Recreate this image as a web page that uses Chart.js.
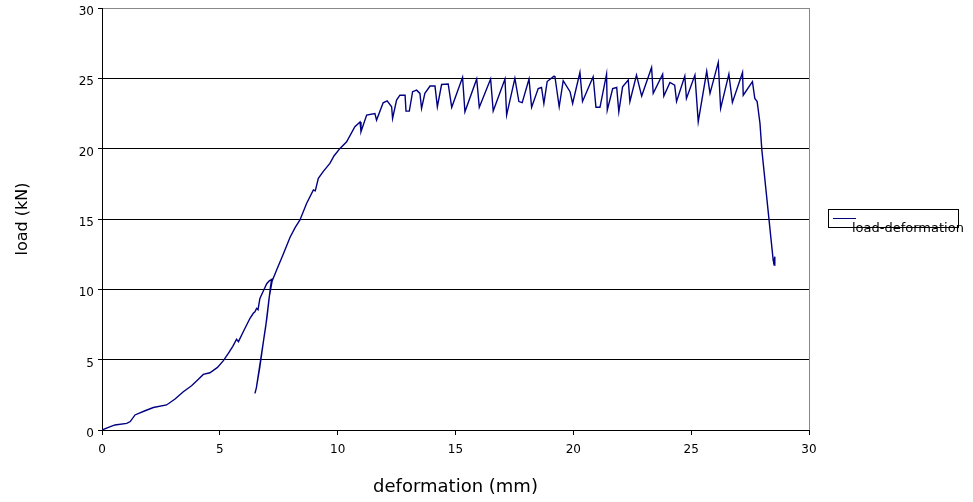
<!DOCTYPE html>
<html lang="en">
<head>
    <meta charset="UTF-8">
    <script src="https://cdn.jsdelivr.net/npm/chart.js"></script>
    <title>load-deformation</title>
    <style>
        html, body { margin: 0; padding: 0; background: #fff; }
        canvas { display: block; }
    </style>
</head>
<body>
    <canvas id="chart" width="973" height="502"></canvas>
    <script>
        // values
        const deformation = [
            0, 0.3, 0.55, 1.05, 1.2, 1.4, 1.8, 2.18, 2.74, 3.1, 3.45, 3.8, 4.09, 4.3, 4.58, 4.9,
            5.15, 5.36, 5.55, 5.71, 5.79, 6.0, 6.28, 6.42, 6.49, 6.56, 6.62, 6.7, 6.85, 6.99, 7.1, 7.2,
            7.15, 7.0, 6.85, 6.7, 6.55, 6.49, 6.55, 6.75, 6.95, 7.1, 7.22,
            7.41, 7.69, 7.98, 8.2, 8.4, 8.68, 8.97, 9.05, 9.18, 9.4, 9.67, 9.85, 10.1, 10.38, 10.73,
            10.95, 10.99, 11.23, 11.58, 11.65, 11.93, 12.1, 12.29, 12.33, 12.5, 12.64, 12.86, 12.9,
            13.04, 13.18, 13.35, 13.49, 13.56, 13.7, 13.92, 14.13, 14.23, 14.41, 14.69, 14.84, 15.3,
            15.4, 15.9, 16.01, 16.49, 16.6, 17.1, 17.17, 17.52, 17.69, 17.83, 18.12, 18.23, 18.51,
            18.65, 18.75, 18.89, 19.18, 19.22, 19.4, 19.57, 19.86, 19.97, 20.28, 20.39, 20.84, 20.96,
            21.13, 21.41, 21.44, 21.67, 21.84, 21.93, 22.09, 22.33, 22.4, 22.68, 22.9, 23.32, 23.39,
            23.79, 23.84, 24.1, 24.3, 24.38, 24.73, 24.8, 25.16, 25.3, 25.66, 25.8, 26.15, 26.25,
            26.6, 26.75, 27.18, 27.21, 27.6, 27.7, 27.8, 27.92, 28.0, 28.48, 28.52, 28.55, 28.5
        ];
        const load = [
            0, 0.2, 0.36, 0.47, 0.6, 1.07, 1.35, 1.6, 1.78, 2.2, 2.72, 3.15, 3.6, 3.95, 4.07, 4.45,
            4.93, 5.45, 5.95, 6.45, 6.28, 7.0, 7.94, 8.3, 8.4, 8.65, 8.55, 9.36, 9.9, 10.4, 10.6, 10.7,
            10.2, 8.0, 6.3, 4.5, 3.0, 2.6, 3.0, 5.2, 7.4, 9.5, 10.6,
            11.37, 12.5, 13.7, 14.4, 14.93, 16.1, 17.06, 17.0, 17.89, 18.4, 18.95, 19.5, 20.02, 20.49, 21.56,
            21.9, 21.2, 22.39, 22.5, 22.03, 23.26, 23.4, 22.98, 22.15, 23.45, 23.8, 23.8, 22.67,
            22.67, 24.05, 24.16, 23.93, 22.86, 23.93, 24.45, 24.45, 22.98, 24.56, 24.6, 22.94, 25.07,
            22.62, 24.95, 22.94, 24.95, 22.67, 24.95, 22.39, 25.0, 23.35, 23.27, 24.95, 22.94, 24.28,
            24.35, 23.21, 24.77, 25.16, 25.11, 22.98, 24.83, 24.05, 23.21, 25.42, 23.35, 25.11, 22.94,
            22.94, 25.3, 22.74, 24.28, 24.35, 22.62, 24.4, 24.88, 23.35, 25.23, 23.74, 25.77, 23.93,
            25.3, 23.74, 24.71, 24.52, 23.35, 25.16, 23.57, 25.23, 21.91, 25.5, 23.93, 26.13, 22.86,
            25.3, 23.29, 25.42, 23.8, 24.77, 23.57, 23.35, 21.8, 19.9, 12.08, 11.73, 12.32, 11.8
        ];
        const seriesName = "load-deformation";
        const xTitle = "deformation (mm)";
        const yTitle = "load (kN)";
        const axisMin = 0, axisMax = 30, axisStep = 5;

        const points = deformation.map((d, i) => ({ x: d, y: load[i] }));
        const fontFamily = "'DejaVu Sans', Verdana, sans-serif";

        // legend box like the old spreadsheet one (text runs over its edge)
        const boxLegend = {
            id: "boxLegend",
            afterDraw(chart) {
                const ctx = chart.ctx;
                ctx.save();
                ctx.strokeStyle = "#000";
                ctx.lineWidth = 1;
                ctx.strokeRect(828.5, 209.5, 130, 18);
                ctx.strokeStyle = "#000080";
                ctx.beginPath();
                ctx.moveTo(833, 218.5);
                ctx.lineTo(856, 218.5);
                ctx.stroke();
                ctx.fillStyle = "#000";
                ctx.font = "13px " + fontFamily;
                ctx.textBaseline = "alphabetic";
                ctx.fillText(seriesName, 852, 231.5);
                ctx.restore();
            }
        };

        const whiteBg = {
            id: "whiteBg",
            beforeDraw(chart) {
                const ctx = chart.ctx;
                ctx.save();
                ctx.fillStyle = "#fff";
                ctx.fillRect(0, 0, chart.width, chart.height);
                ctx.restore();
            }
        };

        new Chart(document.getElementById("chart"), {
            type: "scatter",
            data: {
                datasets: [{
                    label: seriesName,
                    data: points,
                    showLine: true,
                    borderColor: "#000080",
                    backgroundColor: "#000080",
                    borderWidth: 1.4,
                    pointRadius: 0,
                    tension: 0
                }]
            },
            options: {
                responsive: false,
                animation: false,
                devicePixelRatio: 1,
                layout: { padding: { left: 0, right: 164, top: 8, bottom: 0 } },
                plugins: {
                    legend: { display: false },
                    tooltip: { enabled: false }
                },
                scales: {
                    x: {
                        type: "linear",
                        min: axisMin,
                        max: axisMax,
                        ticks: {
                            stepSize: axisStep,
                            color: "#000",
                            font: { family: fontFamily, size: 12 },
                            padding: 8,
                            maxRotation: 0
                        },
                        grid: {
                            color: c => c.tick && c.tick.value === axisMax ? "#888" : "rgba(0,0,0,0)",
                            tickColor: "#000",
                            tickLength: 5,
                            lineWidth: 1
                        },
                        border: { color: "#000", width: 1 },
                        title: {
                            display: true,
                            text: xTitle,
                            color: "#000",
                            font: { family: fontFamily, size: 18 },
                            padding: { top: 0, bottom: 4 }
                        },
                        afterFit(scale) {
                            scale.height = 72;
                            scale.paddingLeft = 0;
                            scale.paddingRight = 0;
                        }
                    },
                    y: {
                        type: "linear",
                        min: axisMin,
                        max: axisMax,
                        ticks: {
                            stepSize: axisStep,
                            color: "#000",
                            font: { family: fontFamily, size: 12 },
                            padding: 4,
                            labelOffset: 4
                        },
                        grid: {
                            color: c => c.tick && c.tick.value === axisMax ? "#888" : "#000",
                            tickColor: "#000",
                            tickLength: 4,
                            lineWidth: 1
                        },
                        border: { color: "#000", width: 1 },
                        title: {
                            display: true,
                            text: yTitle,
                            color: "#000",
                            font: { family: fontFamily, size: 16 },
                            padding: { top: 13, bottom: 0 }
                        },
                        afterFit(scale) {
                            scale.width = 102;
                            scale.paddingTop = 0;
                            scale.paddingBottom = 0;
                        }
                    }
                }
            },
            plugins: [whiteBg, boxLegend]
        });
    </script>
</body>
</html>
